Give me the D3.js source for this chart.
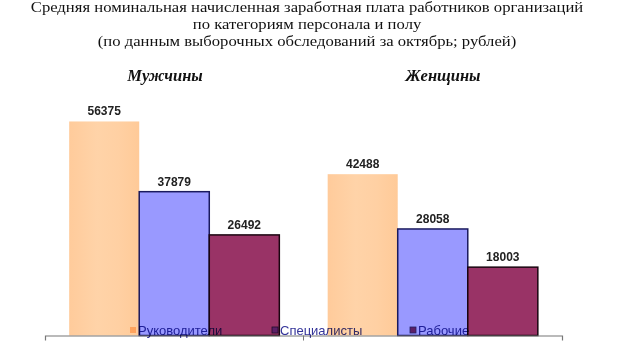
<!DOCTYPE html>
<html>
<head>
<meta charset="utf-8">
<script src="https://cdn.jsdelivr.net/npm/d3@7"></script>
<style>
  body { margin: 0; background: #fff; }
  svg { display: block; }
</style>
</head>
<body>
<svg></svg>
<script>
// Data
const titleLines = [
    "Средняя номинальная начисленная заработная плата работников организаций",
    "по категориям персонала и полу",
    "(по данным выборочных обследований за октябрь; рублей)"
];
const groups = ["Мужчины", "Женщины"];
const categories = ["Руководители", "Специалисты", "Рабочие"];
const menValues = [56375, 37879, 26492];
const womenValues = [42488, 28058, 18003];

const width = 620;
const height = 364;

const svg = d3.select("svg")
    .attr("width", width)
    .attr("height", height);

// Gradient for the orange bars (soft vertical stripes)
const grad = svg.append("defs").append("linearGradient")
    .attr("id", "orangeGrad")
    .attr("x1", "0%").attr("x2", "100%")
    .attr("y1", "0%").attr("y2", "0%");
grad.append("stop").attr("offset", "0%").attr("stop-color", "#ffcb9b");
grad.append("stop").attr("offset", "40%").attr("stop-color", "#ffd3a8");
grad.append("stop").attr("offset", "70%").attr("stop-color", "#ffd0a3");
grad.append("stop").attr("offset", "100%").attr("stop-color", "#ffca98");

const fills = ["url(#orangeGrad)", "#9999ff", "#993366"];
const strokes = ["none", "#1a1a5e", "#1a0510"];
const legendColors = ["#ffcc99", "#9999ff", "#993366"];

// Scales
const x0 = d3.scaleBand()
    .domain(groups)
    .range([45, 562])
    .padding(0);

const x1 = d3.scaleBand()
    .domain(categories)
    .range([0, x0.bandwidth()])
    .paddingInner(0)
    .paddingOuter(0.345);

const y = d3.scaleLinear()
    .domain([0, 60000])
    .range([335.5, 107.7]);

// Title (the original is stretched horizontally)
const titleY = [12, 29.5, 46.5];
svg.append("g")
    .attr("transform", "translate(307,0) scale(1.19,1)")
    .selectAll("text")
    .data(titleLines)
    .join("text")
    .attr("x", 0)
    .attr("y", (d, i) => titleY[i])
    .attr("text-anchor", "middle")
    .style("font-family", "'Liberation Serif', 'Times New Roman', serif")
    .style("font-size", "14px")
    .style("fill", "#111")
    .text(d => d);

// Group titles
const groupTitleX = [165, 443];
svg.append("g")
    .selectAll("text")
    .data(groups)
    .join("text")
    .attr("x", (d, i) => groupTitleX[i])
    .attr("y", 81)
    .attr("text-anchor", "middle")
    .style("font-family", "'Liberation Serif', 'Times New Roman', serif")
    .style("font-size", "16.5px")
    .style("font-weight", "bold")
    .style("font-style", "italic")
    .style("fill", "#111")
    .text(d => d);

const rows = groups.map((g, i) => ({
    group: g,
    values: (i === 0 ? menValues : womenValues).map((v, j) => ({ cat: categories[j], idx: j, value: v }))
}));

// Bars
const groupG = svg.append("g")
    .selectAll("g")
    .data(rows)
    .join("g")
    .attr("transform", d => `translate(${x0(d.group)},0)`);

groupG.selectAll("rect")
    .data(d => d.values)
    .join("rect")
    .attr("x", d => x1(d.cat))
    .attr("y", d => y(d.value))
    .attr("width", x1.bandwidth())
    .attr("height", d => y(0) - y(d.value))
    .attr("fill", d => fills[d.idx])
    .attr("stroke", d => strokes[d.idx])
    .attr("stroke-width", 1.5);

// Value labels
groupG.selectAll("text")
    .data(d => d.values)
    .join("text")
    .attr("x", d => x1(d.cat) + x1.bandwidth() / 2)
    .attr("y", d => y(d.value) - 6)
    .attr("text-anchor", "middle")
    .style("font-family", "'Liberation Sans', Arial, sans-serif")
    .style("font-size", "12px")
    .style("font-weight", "bold")
    .style("fill", "#222")
    .text(d => d.value);

// X axis line with ticks pointing down
const axisG = svg.append("g")
    .attr("transform", `translate(0,${y(0)})`)
    .call(d3.axisBottom(x0).tickValues([]).tickSizeOuter(5));
axisG.select(".domain").attr("stroke", "#777").attr("stroke-width", 1.2);
axisG.selectAll(".mid-tick")
    .data([x0("Женщины")])
    .join("line")
    .attr("class", "mid-tick")
    .attr("x1", d => d).attr("x2", d => d)
    .attr("y1", 0).attr("y2", 5)
    .attr("stroke", "#777");

// Legend (overlaps the bars, as in the original)
const legendX = [130, 272, 410];
const legend = svg.append("g")
    .style("mix-blend-mode", "multiply")
    .selectAll("g")
    .data(categories)
    .join("g")
    .attr("transform", (d, i) => `translate(${legendX[i]},327)`);

legend.append("rect")
    .attr("width", 6)
    .attr("height", 6)
    .attr("fill", (d, i) => legendColors[i])
    .attr("stroke", (d, i) => i === 0 ? "none" : "#333366")
    .attr("stroke-width", 0.8);

legend.append("text")
    .attr("x", 8)
    .attr("y", 7.5)
    .style("font-family", "'Liberation Sans', Arial, sans-serif")
    .style("font-size", "13px")
    .style("fill", "#333399")
    .text(d => d);
</script>
</body>
</html>
